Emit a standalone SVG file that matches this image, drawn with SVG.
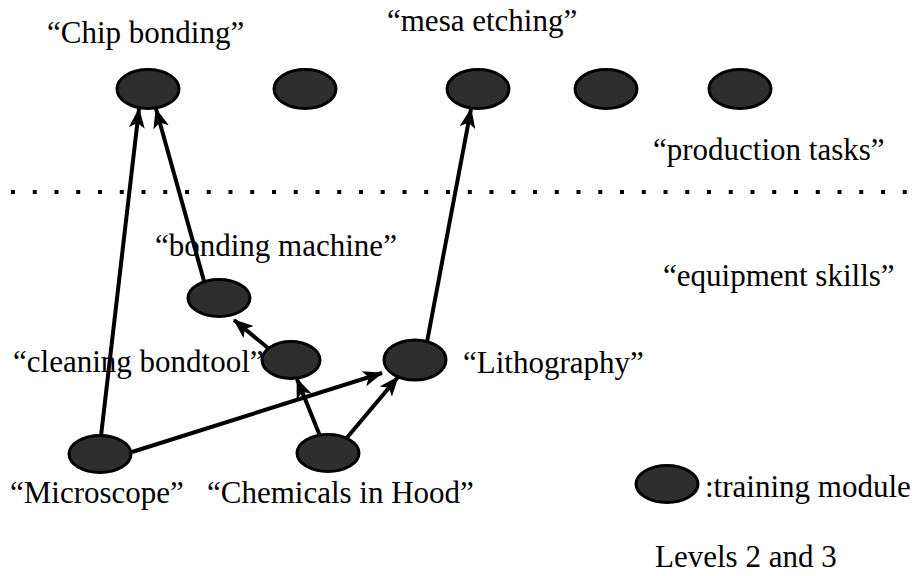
<svg xmlns="http://www.w3.org/2000/svg" width="915" height="576" viewBox="0 0 915 576">
<style>
text{font-family:"Liberation Serif","Times New Roman",serif;font-size:31px;fill:#000}
.n{fill:#2e2e2e;stroke:#000;stroke-width:3}
.c{stroke:#000;stroke-width:4;fill:none;marker-end:url(#ah)}
</style>
<defs>
<marker id="ah" markerUnits="userSpaceOnUse" markerWidth="20" markerHeight="16" viewBox="0 0 20 16" refX="19" refY="8" orient="auto">
<path d="M0,0 L20,8 L0,16 L5,8 Z" fill="#000"/>
</marker>
</defs>
<rect width="915" height="576" fill="#fff"/>
<line x1="11" y1="192" x2="912" y2="192" stroke="#000" stroke-width="4" stroke-dasharray="4 17.75"/>
<text x="47" y="43">“Chip bonding”</text>
<text x="387" y="31">“mesa etching”</text>
<text x="653" y="160">“production tasks”</text>
<text x="663" y="286">“equipment skills”</text>
<text x="155" y="256">“bonding machine”</text>
<text x="13" y="372">“cleaning bondtool”</text>
<text x="463" y="373">“Lithography”</text>
<text x="10" y="503">“Microscope”</text>
<text x="207" y="503">“Chemicals in Hood”</text>
<g id="connectors">
<line class="c" x1="101" y1="436" x2="139" y2="109"/>
<line class="c" x1="204" y1="281" x2="156" y2="109"/>
<line class="c" x1="268" y1="348" x2="234" y2="320"/>
<line class="c" x1="320" y1="436" x2="297" y2="379"/>
<line class="c" x1="345" y1="440" x2="398" y2="377"/>
<line class="c" x1="132" y1="452" x2="382" y2="373"/>
<line class="c" x1="427" y1="342" x2="471" y2="109"/>
</g>
<g id="chip-bonding"><ellipse class="n" cx="148" cy="89" rx="31" ry="19.5"/></g>
<g id="task2"><ellipse class="n" cx="305" cy="89" rx="31" ry="19.5"/></g>
<g id="mesa-etching"><ellipse class="n" cx="478" cy="89" rx="31" ry="19.5"/></g>
<g id="task4"><ellipse class="n" cx="606" cy="89" rx="31" ry="19.5"/></g>
<g id="task5"><ellipse class="n" cx="740" cy="89" rx="31" ry="19.5"/></g>
<g id="bonding-machine"><ellipse class="n" cx="219" cy="298" rx="31" ry="18.5"/></g>
<g id="cleaning-bondtool"><ellipse class="n" cx="291" cy="360" rx="29" ry="18.5"/></g>
<g id="lithography"><ellipse class="n" cx="415" cy="360" rx="31" ry="20"/></g>
<g id="microscope"><ellipse class="n" cx="100" cy="454" rx="31" ry="18.5"/></g>
<g id="chemicals"><ellipse class="n" cx="328" cy="453" rx="31" ry="18.5"/></g>
<g id="legend"><ellipse class="n" cx="667" cy="484" rx="31" ry="18.5"/>
<text x="705" y="497">:training module</text></g>
<text x="655" y="567">Levels 2 and 3</text>
</svg>
